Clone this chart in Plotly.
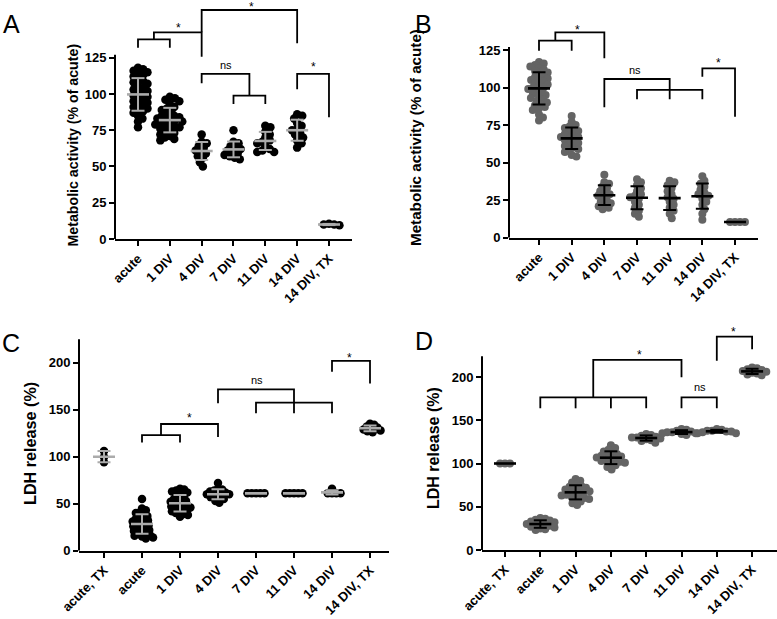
import math
import numpy as np
import plotly.graph_objects as go

W, H = 777, 619
FONT = "Liberation Sans, Arial, Helvetica, sans-serif"

# ---------------- categories ----------------
cats_AB = ["acute", "1 DIV", "4 DIV", "7 DIV", "11 DIV", "14 DIV", "14 DIV, TX"]
cats_CD = ["acute, TX", "acute", "1 DIV", "4 DIV", "7 DIV", "11 DIV", "14 DIV", "14 DIV, TX"]

# ---------------- panel A: metabolic activity (% of acute) ----------------
A_acute = [118, 117, 116, 115, 114, 113, 112, 110, 109, 108, 107, 105, 104, 103, 102, 101, 100,
           99, 98, 97, 96, 95, 94, 93, 92, 91, 90, 89, 88, 87, 85, 83, 81, 77]
A_1div = [98, 97, 96, 95, 93, 91, 90, 89, 88, 86, 85, 85, 84, 83, 83, 82, 81, 81, 80, 79, 79,
          78, 77, 77, 76, 75, 74, 73, 72, 71, 70, 69, 68]
A_4div = [72, 67, 66, 64, 63, 61, 60, 59, 57, 56, 53, 50]
A_7div = [75, 67, 66, 64, 63, 62, 61, 60, 59, 58, 57, 56, 55]
A_11div = [78, 77, 74, 72, 70, 68, 67, 66, 64, 62, 61, 60, 60]
A_14div = [86, 85, 83, 80, 78, 76, 75, 73, 72, 70, 68, 66, 63]
A_14div_tx = [9.5, 10.5, 10, 10]

# ---------------- panel B: metabolic activity (% of acute) ----------------
B_acute = [117, 116, 115, 114, 113, 112, 111, 110, 109, 108, 107, 106, 105, 105, 104, 103, 102,
           101, 100, 100, 99, 98, 97, 96, 95, 94, 93, 92, 91, 90, 89, 88, 87, 86, 85, 82, 80, 78]
B_1div = [81, 77, 75, 74, 73, 72, 71, 70, 69, 68, 67, 67, 66, 65, 64, 63, 62, 61, 60, 59, 58,
          57, 55, 54]
B_4div = [42, 37, 36, 34, 33, 31, 30, 29, 28, 27, 25, 24, 23, 22, 21, 20, 19]
B_7div = [39, 37, 35, 33, 31, 29, 28, 27, 26, 24, 22, 20, 18, 16, 14]
B_11div = [38, 37, 35, 33, 31, 29, 27, 26, 24, 22, 20, 18, 16, 13]
B_14div = [41, 38, 36, 34, 32, 30, 29, 28, 26, 24, 22, 19, 16, 12]
B_14div_tx = [10.5, 10.5, 10.5, 10.5]

# ---------------- panel C: LDH release (%) ----------------
C_acute_tx = [106, 100, 94]
C_acute = [55, 45, 43, 41, 40, 38, 37, 35, 34, 33, 32, 31, 30, 29, 28, 27, 26, 25, 24, 23, 22,
           21, 20, 19, 18, 17, 16, 15, 14, 13]
C_1div = [66, 65, 64, 63, 62, 60, 58, 56, 55, 54, 53, 52, 51, 50, 49, 48, 47, 46, 46, 45, 44,
          43, 42, 41, 40, 39, 38, 36]
C_4div = [72, 66, 65, 64, 63, 62, 61, 60, 60, 59, 58, 57, 56, 55, 53, 51]
C_7div = [61, 61, 61, 61, 61]
C_11div = [61, 61, 61, 61, 61]
C_14div = [61, 61, 61, 61, 66]
C_14div_tx = [135, 134, 132, 131, 130, 129, 128, 127, 126]

# ---------------- panel D: LDH release (%) ----------------
D_acute_tx = [100, 100, 100]
D_acute = [37, 36, 35, 34, 33, 32, 31, 30, 30, 29, 28, 27, 26, 25, 24, 23]
D_1div = [82, 80, 78, 76, 74, 73, 72, 71, 70, 69, 68, 67, 66, 65, 64, 63, 62, 61, 60, 59, 58,
          56, 54, 52]
D_4div = [121, 118, 116, 114, 112, 111, 110, 109, 108, 107, 106, 105, 104, 103, 102, 101, 100,
          98, 96, 93]
D_7div = [134, 133, 132, 131, 130, 130, 129, 128, 127, 126, 124]
D_11div = [140, 139, 138, 137, 136, 136, 135, 135, 134, 133]
D_14div = [140, 139, 138, 138, 137, 137, 136, 135, 135]
D_14div_tx = [211, 210, 209, 208, 207, 206, 205, 204, 203, 202]

# ---------------- significance comparisons (category index, value) ----------------
A_brackets = [
    [(0, 131.9), (0, 137.7), (1, 137.7), (1, 131.9)],
    [(0.5, 137.7), (0.5, 142.5), (2, 142.5), (2, 125.7)],
    [(2, 142.5), (2, 157.9), (5, 157.9), (5, 135.0)],
    [(2, 107.3), (2, 113.8), (3.5, 113.8), (3.5, 98.8)],
    [(3, 93.1), (3, 98.8), (4, 98.8), (4, 93.1)],
    [(5, 103.2), (5, 113.8), (6, 113.8), (6, 83.9)],
]
A_marks = [("*", 1.26, 147.5), ("*", 3.57, 162.0), ("ns", 2.78, 120.0), ("*", 5.5, 120.6)]

B_brackets = [
    [(0, 124.5), (0, 131.2), (1, 131.2), (1, 124.5)],
    [(0.5, 131.2), (0.5, 136.8), (2, 136.8), (2, 119.5)],
    [(2, 86.8), (2, 105.7), (4, 105.7), (4, 92.2)],
    [(3, 92.2), (3, 98.4), (5, 98.4), (5, 92.2)],
    [(5, 107.2), (5, 112.8), (6, 112.8), (6, 80.6)],
]
B_marks = [("*", 1.17, 140.5), ("ns", 2.94, 111.7), ("*", 5.5, 118.3)]

C_brackets = [
    [(1, 115), (1, 123), (2, 123), (2, 115)],
    [(1.5, 123), (1.5, 134.8), (3, 134.8), (3, 121)],
    [(3, 156.8), (3, 171.6), (5, 171.6), (5, 146.1)],
    [(4, 146.1), (4, 157.5), (6, 157.5), (6, 146.1)],
    [(6, 190.4), (6, 202), (7, 202), (7, 178)],
]
C_marks = [("*", 2.24, 144.4), ("ns", 4.02, 181.6), ("*", 6.47, 208.0)]

D_brackets = [
    [(1, 163.8), (1, 176.5), (4, 176.5), (4, 163.8)],
    [(2, 163.8), (2, 176.5)],
    [(3, 163.8), (3, 176.5)],
    [(2.5, 176.5), (2.5, 219.7), (5, 219.7), (5, 199.6)],
    [(5, 163.8), (5, 176.5), (6, 176.5), (6, 163.8)],
    [(6, 218.8), (6, 246.6), (7, 246.6), (7, 232)],
]
D_marks = [("*", 3.8, 229.0), ("ns", 5.52, 188.8), ("*", 6.47, 256.0)]

# ---------------- layout geometry (pixels) and styles ----------------
geo = {
    "A": dict(left=115, right=352, bottom=239, top=0, cat0=138, step=31.83, ppu=1.4504,
              axis_top=127, msize=8.5, spread=0.62, dot="#000000", bar="#ababab",
              yticks=[0, 25, 50, 75, 100, 125], title="Metabolic activity (% of acute)",
              tpos=(73, 145.5), tsize=14.2, letter=(11, 24)),
    "B": dict(left=509, right=758, bottom=237.7, top=20, cat0=539, step=32.67, ppu=1.5016,
              axis_top=127, msize=8, spread=0.62, dot="#646464", bar="#000000",
              yticks=[0, 25, 50, 75, 100, 125], title="Metabolic activity (% of acute)",
              tpos=(415, 138), tsize=15.2, letter=(424, 24)),
    "C": dict(left=79, right=389, bottom=550.7, top=335, cat0=104, step=38.0, ppu=0.94,
              axis_top=225, msize=8.5, spread=0.5, dot="#000000", bar="#ababab",
              yticks=[0, 50, 100, 150, 200], title="LDH release (%)",
              tpos=(30, 444), tsize=16.2, letter=(11, 343)),
    "D": dict(left=482, right=777, bottom=550, top=325, cat0=505, step=35.3, ppu=0.865,
              axis_top=224, msize=8, spread=0.62, dot="#646464", bar="#000000",
              yticks=[0, 50, 100, 150, 200], title="LDH release (%)",
              tpos=(433, 448), tsize=16.0, letter=(424, 341)),
}

panels = {
    "A": (cats_AB, [A_acute, A_1div, A_4div, A_7div, A_11div, A_14div, A_14div_tx], A_brackets, A_marks),
    "B": (cats_AB, [B_acute, B_1div, B_4div, B_7div, B_11div, B_14div, B_14div_tx], B_brackets, B_marks),
    "C": (cats_CD, [C_acute_tx, C_acute, C_1div, C_4div, C_7div, C_11div, C_14div, C_14div_tx], C_brackets, C_marks),
    "D": (cats_CD, [D_acute_tx, D_acute, D_1div, D_4div, D_7div, D_11div, D_14div, D_14div_tx], D_brackets, D_marks),
}


def swarm(vals, ppu_y, d):
    """Beeswarm offsets in pixels for values (no overlap closer than d px)."""
    order = sorted(range(len(vals)), key=lambda i: -vals[i])
    placed = []
    offs = [0.0] * len(vals)
    for i in order:
        y = vals[i] * ppu_y
        cands = [0.0]
        for xj, yj in placed:
            dy = y - yj
            if abs(dy) < d:
                dx = math.sqrt(d * d - dy * dy)
                cands += [xj + dx, xj - dx]
        cands.sort(key=lambda c: (abs(c), -c))
        chosen = cands[-1]
        for c in cands:
            if all((c - xj) ** 2 + (y - yj) ** 2 >= d * d - 1e-6 for xj, yj in placed):
                chosen = c
                break
        placed.append((chosen, y))
        offs[i] = chosen
    return offs


def bold(t):
    return "<b>" + t + "</b>"


fig = go.Figure()
layout = dict(template="none", width=W, height=H,
              margin=dict(l=0, r=0, t=0, b=0, pad=0, autoexpand=False),
              paper_bgcolor="white", plot_bgcolor="white", showlegend=False,
              font=dict(family=FONT, color="black"))
shapes, annotations = [], []

for k, key in enumerate(["A", "B", "C", "D"]):
    g = geo[key]
    cats, groups, brackets, marks = panels[key]
    sfx = "" if k == 0 else str(k + 1)
    xa, ya = "x" + sfx, "y" + sfx
    xr = [(g["left"] - g["cat0"]) / g["step"], (g["right"] - g["cat0"]) / g["step"]]
    yr = [0, (g["bottom"] - g["top"]) / g["ppu"]]

    # dots
    xs, ys = [], []
    for i, vals in enumerate(groups):
        offs = swarm(vals, g["ppu"], g["msize"] * g["spread"])
        xs += [i + o / g["step"] for o in offs]
        ys += list(vals)
    fig.add_trace(go.Scatter(x=xs, y=ys, mode="markers", xaxis=xa, yaxis=ya,
                             marker=dict(size=g["msize"], color=g["dot"], line=dict(width=0)),
                             cliponaxis=False, hoverinfo="skip"))

    # mean and SD
    mx, my, sx, sy = [], [], [], []
    hw, cw = 11.0 / g["step"], 6.5 / g["step"]
    for i, vals in enumerate(groups):
        m = float(np.mean(vals))
        s = float(np.std(vals, ddof=1)) if len(vals) > 1 else 0.0
        mx += [i - hw, i + hw, None]
        my += [m, m, None]
        if s > 0.3:
            sx += [i, i, None, i - cw, i + cw, None, i - cw, i + cw, None]
            sy += [m - s, m + s, None, m + s, m + s, None, m - s, m - s, None]
    fig.add_trace(go.Scatter(x=sx, y=sy, mode="lines", xaxis=xa, yaxis=ya,
                             line=dict(color=g["bar"], width=2), hoverinfo="skip"))
    fig.add_trace(go.Scatter(x=mx, y=my, mode="lines", xaxis=xa, yaxis=ya,
                             line=dict(color=g["bar"], width=2.6), hoverinfo="skip"))

    # brackets
    bx, by = [], []
    for poly in brackets:
        bx += [p[0] for p in poly] + [None]
        by += [p[1] for p in poly] + [None]
    fig.add_trace(go.Scatter(x=bx, y=by, mode="lines", xaxis=xa, yaxis=ya,
                             line=dict(color="black", width=1.8), hoverinfo="skip"))
    for txt, tx, ty in marks:
        annotations.append(dict(text=txt, x=tx, y=ty, xref=xa, yref=ya, showarrow=False,
                                xanchor="center", yanchor="middle",
                                yshift=-3 if txt == "*" else 0,
                                font=dict(size=12 if txt == "*" else 11, family=FONT,
                                          color="#000000")))

    # axes
    layout["xaxis" + sfx] = dict(domain=[g["left"] / W, g["right"] / W], range=xr,
                                 anchor=ya, automargin=False, tickmode="array",
                                 tickvals=list(range(len(cats))),
                                 ticktext=[bold(c) for c in cats], tickangle=-45,
                                 ticks="outside", ticklen=5,
                                 tickwidth=2, tickcolor="black", showline=True, linewidth=2,
                                 linecolor="black", showgrid=False, zeroline=False,
                                 fixedrange=True,
                                 tickfont=dict(size=13, family=FONT, color="black"))
    layout["yaxis" + sfx] = dict(domain=[1 - g["bottom"] / H, 1 - g["top"] / H], range=yr,
                                 anchor=xa, automargin=False, tickmode="array",
                                 tickvals=g["yticks"],
                                 ticktext=[bold(str(v)) for v in g["yticks"]],
                                 ticks="outside", ticklen=5, tickwidth=2, tickcolor="black",
                                 showline=False, showgrid=False, zeroline=False,
                                 fixedrange=True,
                                 tickfont=dict(size=13, family=FONT, color="black"))
    shapes.append(dict(type="line", xref=xa + " domain", yref=ya, x0=0, x1=0,
                       y0=0, y1=g["axis_top"], line=dict(color="black", width=2)))

    # axis title and panel letter
    annotations.append(dict(text=bold(g["title"]), x=g["tpos"][0] / W, y=1 - g["tpos"][1] / H,
                            xref="paper", yref="paper", showarrow=False, textangle=-90,
                            xanchor="center", yanchor="middle",
                            font=dict(size=g["tsize"], family=FONT, color="black")))
    annotations.append(dict(text=key, x=g["letter"][0] / W, y=1 - g["letter"][1] / H,
                            xref="paper", yref="paper", showarrow=False,
                            xanchor="center", yanchor="middle",
                            font=dict(size=25, family=FONT, color="black")))

layout["shapes"] = shapes
layout["annotations"] = annotations
fig.update_layout(**layout)
fig.write_html("out.html", config={"displayModeBar": False},
               post_script="document.body.style.margin='0px';")
